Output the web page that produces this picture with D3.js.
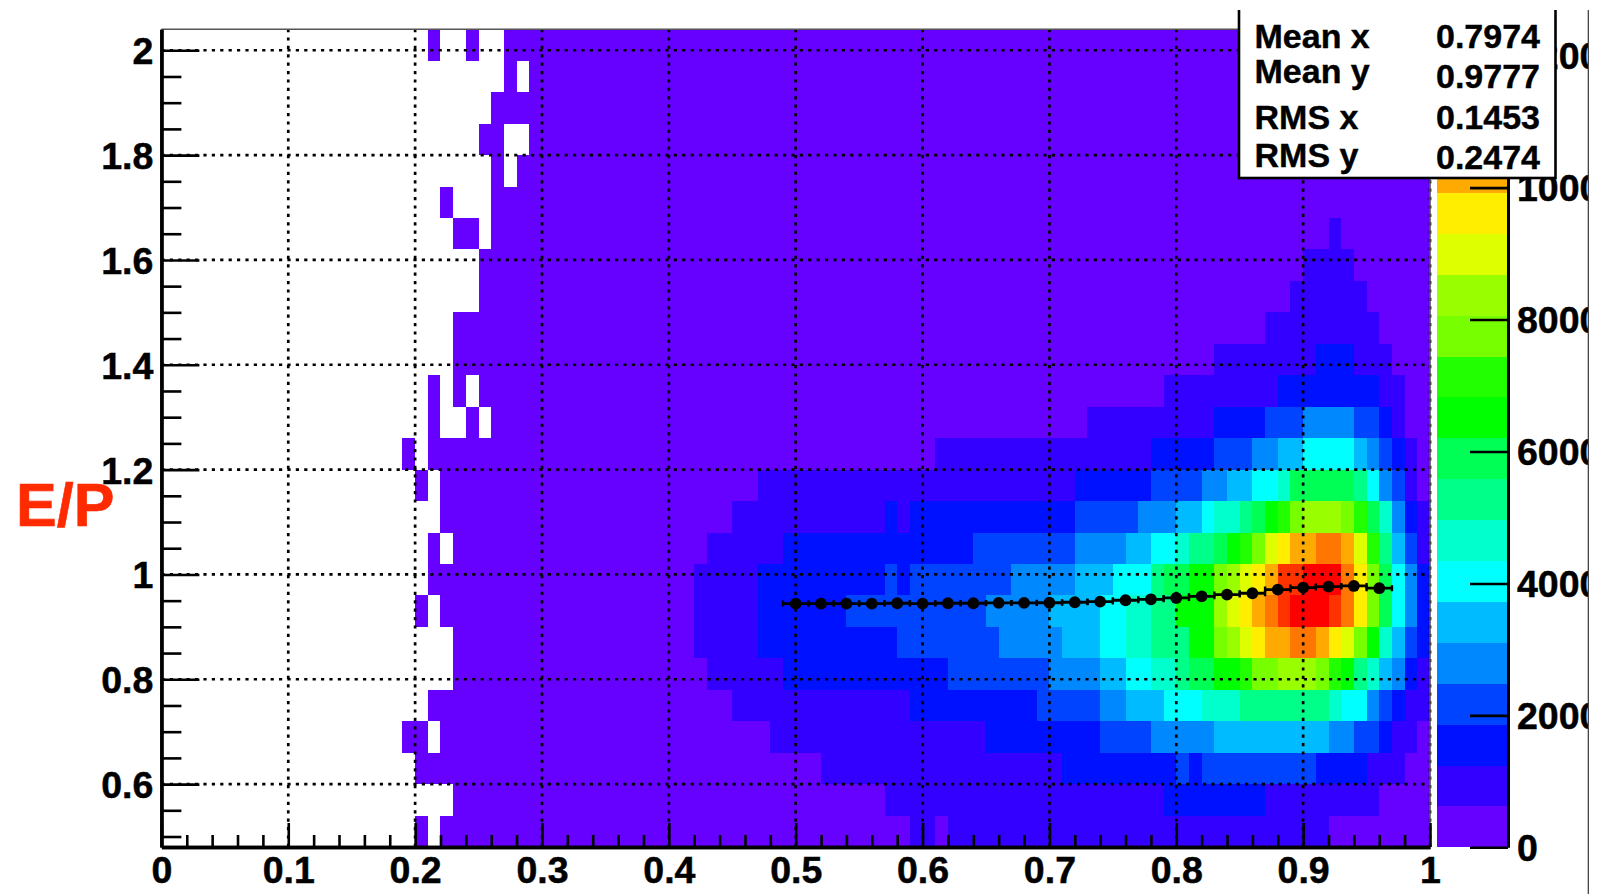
<!DOCTYPE html>
<html>
<head>
<meta charset="utf-8">
<script src="https://cdn.jsdelivr.net/npm/d3@7"></script>
<style>
html,body{margin:0;padding:0;background:#fff;overflow:hidden}
svg{display:block}
text{font-family:"Liberation Sans",Arial,sans-serif;font-weight:bold;fill:#000}
</style>
</head>
<body>
<svg id="c" width="1605" height="894"></svg>
<script>
// Histogram contents: each row is a flat list of (start bin, contour level); -1 = empty bin.
const row25=[21,0,22,-1,24,0,25,-1,27,0];
const row24=[27,0,28,-1,29,0];
const row23=[26,0];
const row22=[25,0,27,-1,29,0];
const row21=[26,0,27,-1,28,0];
const row20=[22,0,23,-1,26,0];
const row19=[23,0,25,-1,26,0,92,1,93,0];
const row18=[25,0,90,1,94,0];
const row17=[25,0,89,1,95,0];
const row16=[23,0,87,1,96,0];
const row15=[23,0,83,1,91,2,94,1,97,0];
const row14=[21,0,22,-1,23,0,24,-1,25,0,79,1,88,2,96,1,98,0];
const row13=[21,0,22,-1,24,0,25,-1,26,0,73,1,83,2,87,3,90,4,94,3,96,2,97,1,98,0];
const row12=[19,0,20,-1,21,0,61,1,78,2,83,3,86,4,88,5,90,6,94,5,95,4,96,3,97,2,98,1,99,0];
const row11=[20,0,21,-1,22,0,47,1,72,2,78,3,82,4,84,5,86,6,88,7,89,9,94,8,95,6,96,4,97,3,98,1,99,0];
const row10=[22,0,45,1,57,2,58,1,59,2,72,3,77,4,80,5,82,6,83,7,85,8,86,9,87,10,88,11,89,12,90,13,93,12,94,11,95,9,96,7,97,4,98,2,99,1];
const row09=[21,0,22,-1,23,0,43,1,49,2,64,3,72,4,76,5,78,6,80,7,81,8,83,9,84,10,85,11,86,12,87,14,88,15,89,16,91,17,93,16,94,14,95,11,96,8,97,5,98,3,99,1];
const row08=[21,0,42,1,47,2,57,3,58,2,59,3,67,4,72,5,75,6,78,8,79,9,81,10,83,12,84,13,85,14,86,15,87,16,88,18,90,19,93,17,94,15,95,12,96,9,97,6,98,4,99,2];
const row07=[20,0,21,-1,22,0,42,1,47,2,54,3,65,4,70,5,74,6,76,7,78,8,80,10,83,13,84,14,85,15,86,16,87,17,88,18,89,19,92,18,93,17,94,15,95,12,96,9,97,6,98,4,99,2];
const row06=[23,0,42,1,47,2,58,3,66,4,71,5,74,6,76,7,78,8,81,10,83,12,84,13,85,14,86,15,87,16,89,17,91,16,92,15,93,14,94,12,95,10,96,7,97,5,98,3,99,2];
const row05=[23,0,43,1,49,2,62,3,70,4,74,5,76,6,78,7,80,8,81,9,83,10,85,11,86,12,88,13,91,12,92,11,93,10,94,8,95,7,96,5,97,4,98,2,99,1];
const row04=[21,0,45,1,59,2,69,3,74,4,76,5,79,6,82,7,85,8,92,7,93,6,95,4,96,3,97,2,98,1];
const row03=[19,0,21,-1,22,0,48,1,65,2,74,3,78,4,83,5,92,4,94,3,96,2,97,1,99,0];
const row02=[20,0,52,1,71,2,80,3,81,2,82,3,91,2,95,1,98,0];
const row01=[23,0,57,1,79,2,87,1,96,0];
const row00=[20,0,21,-1,22,0,59,1,61,0,62,1,92,0];
const rows=[row00,row01,row02,row03,row04,row05,row06,row07,row08,row09,row10,row11,row12,row13,row14,row15,row16,row17,row18,row19,row20,row21,row22,row23,row24,row25];

const paletteColors=["#6600ff","#3300ff","#0011ff","#0044ff","#0088ff","#00bbff","#00ffff","#00ffcc","#00ff88","#00ff55","#00ff00","#22ff00","#77ff00","#99ff00","#ddff00","#ffee00","#ffaa00","#ff7700","#ff3300","#ff0000"];

// Profile points
const profileX=[0.50,0.52,0.54,0.56,0.58,0.60,0.62,0.64,0.66,0.68,0.70,0.72,0.74,0.76,0.78,0.80,0.82,0.84,0.86,0.88,0.90,0.92,0.94,0.96];
const profileY=[0.9444,0.9444,0.9444,0.9444,0.9450,0.9444,0.9450,0.9450,0.9456,0.9456,0.9460,0.9469,0.9482,0.9507,0.9526,0.9551,0.9583,0.9616,0.9641,0.9711,0.9750,0.9769,0.9780,0.9737];

const statNames=["Mean x","Mean y","RMS x","RMS y"];
const statValues=["0.7974","0.9777","0.1453","0.2474"];
const yTitle="E/P";

const xBins=100,yBins=26,xBinW=0.01,yBinH=0.06,yMin=0.48,zStep=620;

const svg=d3.select("#c");
const x=d3.scaleLinear().domain([0,1]).range([161.4,1430]);
const y=d3.scaleLinear().domain([yMin,yMin+yBins*yBinH]).range([847,29.3]);
const z=d3.scaleLinear().domain([0,zStep*paletteColors.length]).range([847.3,29.3]);
const color=d3.scaleOrdinal().domain(d3.range(paletteColors.length)).range(paletteColors);

// expand runs to cells
const cells=[];
rows.forEach((r,k)=>{
  for(let i=0;i<r.length;i+=2){
    const end=i+2<r.length?r[i+2]:xBins;
    if(r[i+1]<0)continue;
    for(let b=r[i];b<end;b++)cells.push({b,k,l:r[i+1]});
  }
});
svg.append("g").attr("shape-rendering","crispEdges").selectAll("rect").data(cells).join("rect")
  .attr("x",d=>x(d.b*xBinW)).attr("width",d=>x((d.b+1)*xBinW)-x(d.b*xBinW))
  .attr("y",d=>y(yMin+(d.k+1)*yBinH)).attr("height",d=>y(yMin+d.k*yBinH)-y(yMin+(d.k+1)*yBinH))
  .attr("fill",d=>color(d.l));

// grid
const xMajor=d3.range(0,11).map(d=>d/10);
const yMajor=[2,1.8,1.6,1.4,1.2,1,0.8,0.6];
const grid=svg.append("g").attr("stroke","#000").attr("stroke-width",2.7).attr("stroke-dasharray","3.2 5.2");
grid.selectAll("line.v").data(xMajor.slice(1)).join("line").attr("class","v")
  .attr("x1",d=>x(d)).attr("x2",d=>x(d)).attr("y1",y.range()[0]).attr("y2",y.range()[1]);
grid.selectAll("line.h").data(yMajor).join("line").attr("class","h")
  .attr("x1",x(0)).attr("x2",x(1)).attr("y1",d=>y(d)).attr("y2",d=>y(d));

// frame (top & right)
svg.append("path").attr("d",`M${x(0)},${y.range()[1]}H${x(1)}V${y.range()[0]}`)
  .attr("fill","none").attr("stroke","#555").attr("stroke-width",1.6);

// axes
const fmt=d3.format("~g");
function style(g,w){g.select(".domain").attr("stroke","#000").attr("stroke-width",w);
  g.selectAll(".tick line").attr("stroke","#000").attr("stroke-width",2.6);
  g.selectAll("text").attr("font-size",37.5).attr("font-family",null).attr("fill","#000").style("stroke","#000").style("stroke-width",0.5);}

const xMinor=d3.range(0,51).map(d=>d*0.02).filter(v=>Math.round(v*50)%5!==0);
const xa=svg.append("g").attr("transform",`translate(0,${y.range()[0]})`)
  .call(d3.axisBottom(x).tickValues(xMajor).tickFormat(fmt).tickSize(-24).tickSizeOuter(0));
style(xa,3.4);
xa.selectAll("text").attr("y",0).attr("dy",null).attr("transform","translate(0,36)");
const xm=svg.append("g").attr("transform",`translate(0,${y.range()[0]})`)
  .call(d3.axisBottom(x).tickValues(xMinor).tickFormat("").tickSize(-12).tickSizeOuter(0));
style(xm,3.4);

const yMinor=d3.range(10,41).map(d=>d*0.05).filter(v=>Math.round(v*100)%20!==0);
const ya=svg.append("g").attr("transform",`translate(${x(0)},0)`)
  .call(d3.axisLeft(y).tickValues(yMajor).tickFormat(fmt).tickSize(-38).tickSizeOuter(0));
style(ya,3.4);
ya.selectAll("text").attr("x",-8).attr("dy",null).attr("y",13.5).attr("text-anchor","end");
const ym=svg.append("g").attr("transform",`translate(${x(0)},0)`)
  .call(d3.axisLeft(y).tickValues(yMinor).tickFormat("").tickSize(-20).tickSizeOuter(0));
style(ym,3.4);

// profile
const prof=profileX.map((v,i)=>({x:v,y:profileY[i]}));
const ex=0.01;
const pg=svg.append("g");
pg.append("path").attr("fill","none").attr("stroke","#000").attr("stroke-width",2.8)
  .attr("d",prof.map(d=>`M${x(d.x-ex)},${y(d.y)}H${x(d.x+ex)}`).join(""));
pg.selectAll("path.cap").data(prof).join("path").attr("class","cap").attr("fill","none").attr("stroke","#000").attr("stroke-width",2.4)
  .attr("d",d=>`M${x(d.x-ex)},${y(d.y)-3}v6M${x(d.x+ex)},${y(d.y)-3}v6`);
pg.selectAll("circle").data(prof).join("circle").attr("cx",d=>x(d.x)).attr("cy",d=>y(d.y)).attr("r",5.9).attr("fill","#000");

// palette
const palX0=1437,palX1=1508;
svg.append("g").attr("shape-rendering","crispEdges").selectAll("rect").data(d3.range(paletteColors.length)).join("rect")
  .attr("x",palX0).attr("width",palX1-palX0)
  .attr("y",d=>z((d+1)*zStep)).attr("height",d=>z(d*zStep)-z((d+1)*zStep))
  .attr("fill",d=>color(d));
const za=svg.append("g").attr("transform",`translate(${palX1},0)`)
  .call(d3.axisRight(z).tickValues([0,2000,4000,6000,8000,10000,12000]).tickFormat(d3.format("d")).tickSize(-38).tickSizeOuter(0));
style(za,3);
za.selectAll("text").attr("x",9).attr("dy",null).attr("y",13).attr("text-anchor","start");
za.attr("clip-path","url(#pc2)");
svg.append("clipPath").attr("id","pc2").append("rect").attr("x",-120).attr("y",0).attr("width",200).attr("height",894);

// y title
svg.append("text").attr("x",16).attr("y",525.5).attr("font-size",61).style("fill","#ff2a00").style("stroke","#ff2a00").style("stroke-width",0.6).text(yTitle);

// stats box
svg.append("rect").attr("x",1239).attr("y",8).attr("width",316.5).attr("height",170)
  .attr("fill","#fff").attr("stroke","#000").attr("stroke-width",2.6);
svg.append("rect").attr("x",1230).attr("y",0).attr("width",375).attr("height",10).attr("fill","#fff");
const nameY=[48.3,83,129,166.7],valueY=[48.3,88.3,129,169.3];
svg.append("g").selectAll("text").data(statNames).join("text").attr("x",1254.5).attr("y",(d,i)=>nameY[i]).attr("font-size",34).style("stroke","#000").style("stroke-width",0.4).text(d=>d);
svg.append("g").selectAll("text").data(statValues).join("text").attr("x",1540).attr("y",(d,i)=>valueY[i]).attr("text-anchor","end").attr("font-size",34).style("stroke","#000").style("stroke-width",0.4).text(d=>d);

// right border line
svg.append("line").attr("x1",1588.3).attr("x2",1588.3).attr("y1",10).attr("y2",894).attr("stroke","#333").attr("stroke-width",1.2);
</script>
</body>
</html>
